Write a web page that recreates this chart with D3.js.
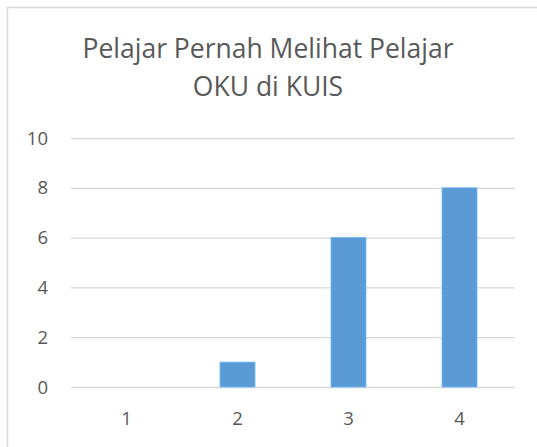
<!DOCTYPE html>
<html>
<head>
<meta charset="utf-8">
<script src="https://cdn.jsdelivr.net/npm/d3@7"></script>
<style>
  body { margin: 0; background: #fff; }
  svg { display: block; font-family: "Open Sans", sans-serif; }
</style>
</head>
<body>
<div id="chart"></div>
<script>
// chart data
var titleLines = ["Pelajar Pernah Melihat Pelajar", "OKU di KUIS"];
var categories = ["1", "2", "3", "4"];
var values = [0, 1, 6, 8];
var yTicks = [0, 2, 4, 6, 8, 10];

var W = 537, H = 447;
var margin = {top: 138, right: 22, bottom: 60, left: 71},
    width = W - margin.left - margin.right,
    height = H - margin.top - margin.bottom;

var svg = d3.select("#chart")
  .append("svg")
    .attr("width", W)
    .attr("height", H);

// chart border (right/bottom run off the window)
svg.append("rect")
    .attr("x", 7.5).attr("y", 7.5)
    .attr("width", W).attr("height", H)
    .attr("fill", "none")
    .attr("stroke", "#d9d9d9")
    .attr("stroke-width", 1.5);

// title
svg.append("text")
    .attr("text-anchor", "middle")
    .attr("fill", "#595959")
    .style("font-size", "26.5px")
  .selectAll("tspan")
  .data(titleLines)
  .enter().append("tspan")
    .attr("x", 268)
    .attr("y", function(d, i) { return 58 + i * 38; })
    .text(function(d) { return d; });

var g = svg.append("g")
    .attr("transform", "translate(" + margin.left + "," + margin.top + ")");

var x = d3.scaleBand()
    .domain(categories)
    .range([0, width])
    .paddingInner(0.685)
    .paddingOuter(0.3425);

var y = d3.scaleLinear()
    .domain([0, 10])
    .range([height, 0]);

// gridlines
g.append("g")
    .call(d3.axisLeft(y).tickValues(yTicks).tickSize(-width).tickFormat(""))
    .call(function(s) { s.select(".domain").remove(); })
    .selectAll("line")
      .attr("stroke", "#d9d9d9")
      .attr("stroke-width", 1.3);

// y labels
g.append("g")
  .selectAll("text")
  .data(yTicks)
  .enter().append("text")
    .attr("x", -23)
    .attr("y", function(d) { return y(d); })
    .attr("dy", "0.36em")
    .attr("text-anchor", "end")
    .attr("fill", "#595959")
    .style("font-size", "18.5px")
    .text(function(d) { return d; });

// bars
g.selectAll(".bar")
  .data(values)
  .enter().append("rect")
    .attr("class", "bar")
    .attr("x", function(d, i) { return x(categories[i]); })
    .attr("y", function(d) { return y(d); })
    .attr("width", x.bandwidth())
    .attr("height", function(d) { return height - y(d); })
    .attr("fill", "#5b9bd5")
    .attr("stroke", d3.color("#5b9bd5").brighter(0.5))
    .attr("stroke-width", 0.8);

// x labels
g.append("g")
  .selectAll("text")
  .data(categories)
  .enter().append("text")
    .attr("x", function(d) { return x(d) + x.bandwidth() / 2; })
    .attr("y", height + 38)
    .attr("text-anchor", "middle")
    .attr("fill", "#595959")
    .style("font-size", "18.5px")
    .text(function(d) { return d; });
</script>
</body>
</html>
